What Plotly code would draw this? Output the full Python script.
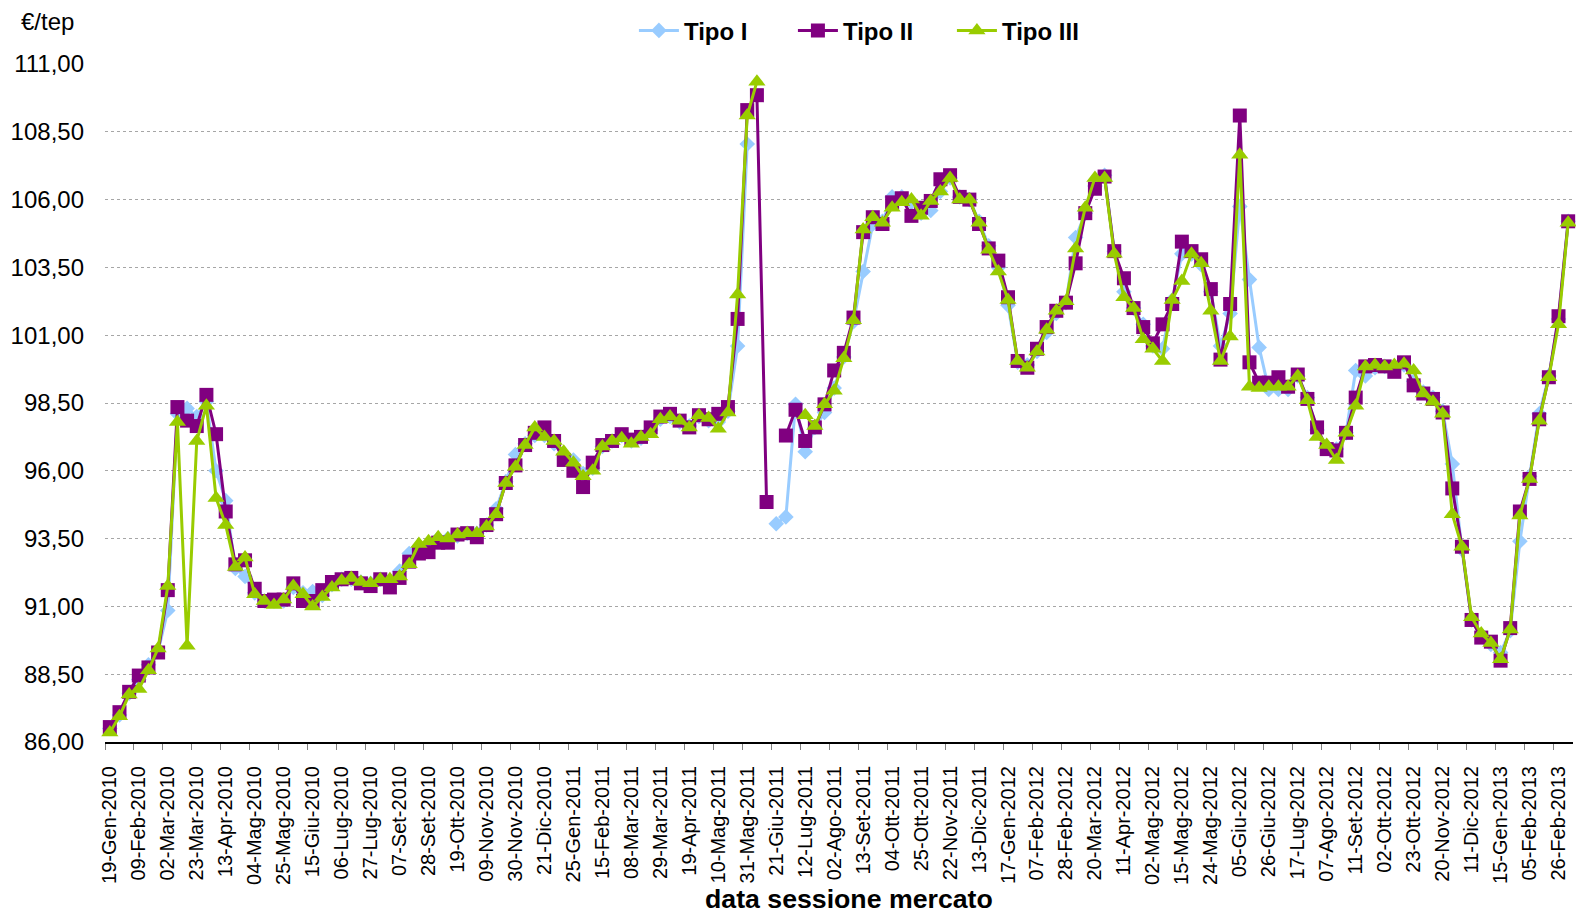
import plotly.graph_objects as go

tick_labels = ["19-Gen-2010","09-Feb-2010","02-Mar-2010","23-Mar-2010","13-Apr-2010","04-Mag-2010",
    "25-Mag-2010","15-Giu-2010","06-Lug-2010","27-Lug-2010","07-Set-2010","28-Set-2010","19-Ott-2010",
    "09-Nov-2010","30-Nov-2010","21-Dic-2010","25-Gen-2011","15-Feb-2011","08-Mar-2011","29-Mar-2011",
    "19-Apr-2011","10-Mag-2011","31-Mag-2011","21-Giu-2011","12-Lug-2011","02-Ago-2011","13-Set-2011",
    "04-Ott-2011","25-Ott-2011","22-Nov-2011","13-Dic-2011","17-Gen-2012","07-Feb-2012","28-Feb-2012",
    "20-Mar-2012","11-Apr-2012","02-Mag-2012","15-Mag-2012","24-Mag-2012","05-Giu-2012","26-Giu-2012",
    "17-Lug-2012","07-Ago-2012","11-Set-2012","02-Ott-2012","23-Ott-2012","20-Nov-2012","11-Dic-2012",
    "15-Gen-2013","05-Feb-2013","26-Feb-2013"]

tipo1 = [86.5,87.0,87.8,88.3,88.85,89.35,90.85,98.1,98.3,98.0,
    98.55,96.0,94.9,92.4,92.1,91.5,91.2,91.2,91.2,91.7,
    91.5,91.55,91.4,91.8,92.0,92.0,91.9,91.85,92.0,91.9,
    92.3,92.95,93.2,93.3,93.5,93.5,93.6,93.7,93.7,94.0,
    94.6,95.6,96.6,97.0,97.3,97.3,97.0,96.6,96.4,95.9,
    96.1,96.9,97.1,97.3,97.1,97.2,97.5,97.9,98.0,97.8,
    97.65,98.0,97.85,97.8,98.2,100.6,108.05,None,None,94.05,
    94.3,98.45,96.7,97.6,98.15,99.05,100.2,101.5,103.35,105.1,
    105.2,106.1,106.1,105.9,105.5,105.6,106.3,106.8,106.1,106.0,
    105.2,104.3,103.5,102.1,100.0,99.9,100.4,101.1,101.8,102.2,
    104.6,105.5,106.5,106.9,104.1,102.6,102.0,101.4,100.6,100.5,
    102.3,104.0,104.0,103.6,102.6,100.6,101.8,105.75,103.05,100.55,
    99.0,99.0,99.0,99.5,98.7,97.5,96.9,96.8,97.4,99.7,
    99.5,99.8,99.85,99.8,99.9,99.3,98.9,98.7,98.2,96.25,
    93.1,90.5,89.9,89.6,89.3,90.1,93.4,95.8,98.1,99.5,
    101.6,105.2]

tipo2 = [86.55,87.1,87.85,88.45,88.75,89.3,91.6,98.35,97.85,97.65,
    98.8,97.35,94.5,92.55,92.7,91.65,91.2,91.25,91.25,91.85,
    91.2,91.2,91.6,91.9,92.0,92.05,91.85,91.75,92.0,91.7,
    92.05,92.65,92.95,93.0,93.35,93.35,93.65,93.7,93.55,94.0,
    94.4,95.55,96.2,96.95,97.4,97.6,97.1,96.4,96.0,95.4,
    96.3,96.95,97.1,97.35,97.15,97.25,97.6,98.0,98.1,97.85,
    97.6,98.05,97.9,98.1,98.35,101.6,109.3,109.85,94.85,None,
    97.3,98.25,97.1,97.6,98.45,99.7,100.35,101.65,104.8,105.35,
    105.1,105.9,106.05,105.4,105.7,105.95,106.75,106.9,106.1,106.0,
    105.1,104.2,103.75,102.4,100.05,99.8,100.5,101.3,101.9,102.2,
    103.65,105.5,106.4,106.85,104.1,103.1,102.0,101.3,100.7,101.4,
    102.15,104.45,104.1,103.8,102.7,100.1,102.15,109.1,100.0,99.25,
    99.25,99.45,99.1,99.55,98.65,97.6,96.8,96.75,97.4,98.7,
    99.85,99.9,99.85,99.65,100.0,99.15,98.85,98.65,98.15,95.35,
    93.2,90.5,89.85,89.7,89.0,90.2,94.5,95.7,97.9,99.45,
    101.7,105.2]

tipo3 = [86.35,86.95,87.75,87.95,88.65,89.45,91.75,97.8,89.55,97.1,
    98.4,95.0,94.0,92.45,92.8,91.45,91.2,91.05,91.25,91.75,
    91.45,91.0,91.35,91.7,91.95,92.05,91.9,91.85,92.0,92.0,
    92.1,92.55,93.3,93.4,93.55,93.5,93.65,93.7,93.7,93.95,
    94.4,95.55,96.15,96.95,97.6,97.25,97.1,96.7,96.3,95.8,
    96.0,96.9,97.1,97.2,97.0,97.25,97.35,97.9,98.0,97.85,
    97.6,98.05,97.95,97.55,98.15,102.5,109.1,110.35,None,None,
    None,None,98.05,97.65,98.45,98.95,100.15,101.55,104.9,105.35,
    105.15,105.7,105.9,106.0,105.4,105.95,106.3,106.8,106.0,106.0,
    105.15,104.15,103.35,102.3,100.05,99.8,100.4,101.2,101.9,102.25,
    104.2,105.7,106.8,106.8,104.0,102.4,102.0,100.85,100.5,100.05,
    102.3,103.0,104.0,103.65,101.9,100.05,100.95,107.65,99.1,99.05,
    99.1,99.1,99.1,99.5,98.6,97.25,96.95,96.4,97.4,98.4,
    99.85,99.9,99.85,99.9,99.95,99.7,98.85,98.55,98.1,94.4,
    93.2,90.6,90.0,89.65,89.05,90.15,94.35,95.7,97.85,99.45,
    101.4,105.15]

series_names = ["Tipo I", "Tipo II", "Tipo III"]
colors = ["#99CCFF", "#800080", "#99CC00"]
symbols = ["diamond", "square", "triangle-up"]
sizes = [12, 14, 15]

n = len(tipo1)
x = list(range(n))
tick_step = 3
tickvals = list(range(0, n, tick_step))[:len(tick_labels)]

FONT = "Liberation Sans, Arial, sans-serif"

fig = go.Figure()
for name, ys, c, s, sz in zip(series_names, [tipo1, tipo2, tipo3], colors, symbols, sizes):
    fig.add_trace(go.Scatter(
        x=x, y=ys, name=name, mode="lines+markers",
        line=dict(color=c, width=3),
        marker=dict(symbol=s, size=sz, color=c, line=dict(width=0)),
        connectgaps=False, cliponaxis=False,
    ))

fig.update_layout(
    width=1576, height=914,
    margin=dict(l=105, r=3, t=64, b=172),
    paper_bgcolor="white", plot_bgcolor="white",
    separators=",.",
    font=dict(family=FONT, color="black"),
    showlegend=True,
    legend=dict(orientation="h", x=0.3603, xanchor="left", y=1.049, yanchor="middle",
                font=dict(size=24, family=FONT, weight="bold"), itemwidth=40,
                entrywidth=104, entrywidthmode="pixels",
                bgcolor="rgba(0,0,0,0)"),
    annotations=[
        dict(text="€/tep", xref="paper", yref="paper", x=-0.0395, y=1.062,
             xanchor="center", yanchor="middle", showarrow=False, font=dict(size=24, family=FONT)),
        dict(text="<b>data sessione mercato</b>", xref="paper", yref="paper", x=0.507, y=-0.231,
             xanchor="center", yanchor="middle", showarrow=False, font=dict(size=26.7, family=FONT)),
    ],
)

fig.update_xaxes(
    range=[-0.5, n - 0.5],
    tickmode="array", tickvals=tickvals, ticktext=tick_labels,
    tickangle=-90, tickfont=dict(size=20, family=FONT), ticklabelstandoff=14,
    ticks="", showgrid=False, zeroline=False,
    showline=True, linecolor="black", linewidth=2,
    minor=dict(tickmode="linear", tick0=-0.5, dtick=tick_step, ticks="outside",
               ticklen=6, tickcolor="#808080", tickwidth=1, showgrid=False),
)

fig.update_yaxes(
    range=[86, 111], tickmode="linear", tick0=86, dtick=2.5, tickformat=".2f",
    tickfont=dict(size=24, family=FONT), ticks="", ticklabelstandoff=20,
    showgrid=True, gridcolor="#A6A6A6", griddash="dot", gridwidth=1,
    zeroline=False, showline=False,
)

fig.write_html("out.html", config={"displayModeBar": False},
               post_script="document.body.style.margin='0';document.body.style.overflow='hidden';")
